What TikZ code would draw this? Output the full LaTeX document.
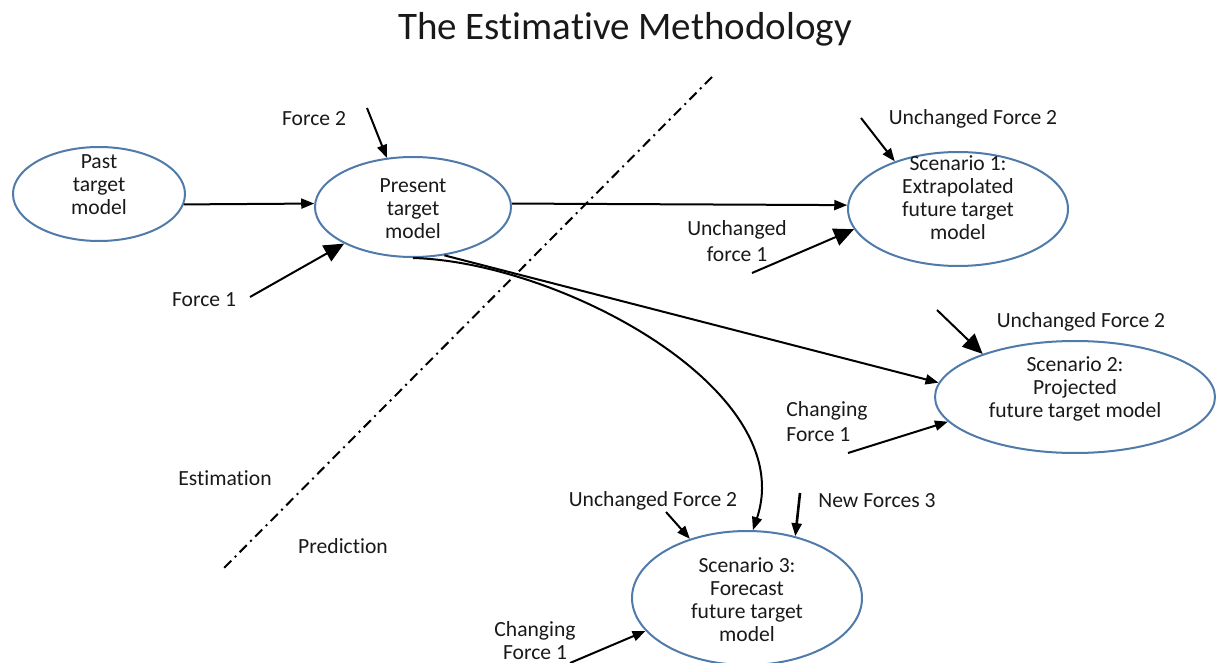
\documentclass[tikz,border=0pt]{standalone}
\usepackage{fontspec}
\setmainfont{Carlito}[Ligatures=NoCommon]
\usetikzlibrary{shapes.geometric,arrows.meta}
\definecolor{ellblue}{RGB}{79,122,170}
\tikzset{
  every node/.style={font=\fontsize{10.8pt}{11.5pt}\selectfont, text=black!90},
  modelnode/.style={ellipse, draw=ellblue, line width=1pt, inner sep=0pt},
  lbl/.style={inner sep=0pt, align=center},
  smallarrow/.style={line width=1pt, -{Triangle[length=6.5pt,width=5pt]}},
  bigarrow/.style={line width=1pt, -{Triangle[length=10pt,width=9pt]}},
  divider/.style={line width=1pt, dash pattern=on 5pt off 2.5pt on 1pt off 2.5pt},
}
\begin{document}
\begin{tikzpicture}[x=0.5pt,y=-0.5pt]
\useasboundingbox (0,0) rectangle (1216,663);
\node[lbl, font=\fontsize{19.5pt}{22pt}\selectfont] (title) at (625,29) {The Estimative Methodology};

% divider
\coordinate (d1) at (712,77);
\coordinate (d2) at (222,570);
\draw[divider] (d1) -- (d2);

% ellipses
\node[modelnode, minimum width=86pt, minimum height=47pt] (past) at (99,194) {};
\node[modelnode, minimum width=98pt, minimum height=50pt] (present) at (413,207) {};
\node[modelnode, minimum width=110pt, minimum height=57pt] (s1) at (958,209) {};
\node[modelnode, minimum width=140pt, minimum height=56pt] (s2) at (1075,397) {};
\node[modelnode, minimum width=115pt, minimum height=67pt] (s3) at (747,598) {};

% ellipse texts
\node[lbl] (pastt) at (99,185) {Past\\target\\model};
\node[lbl] (presentt) at (413,209) {Present\\target\\model};
\node[lbl] (s1t) at (958,198) {Scenario 1:\\Extrapolated\\future target\\model};
\node[lbl] (s2t) at (1075,389) {Scenario 2:\\Projected\\future target model};
\node[lbl] (s3t) at (747,600) {Scenario 3:\\Forecast\\future target\\model};

% main connectors
\draw[smallarrow] (past.-7) -- (present.178);
\draw[smallarrow] (present.2) -- (s1.178);
\draw[smallarrow] (present.-57) -- (s2.174);
\draw[smallarrow] (present.south) .. controls (560,262) and (800,390) .. (s3.85);

% labels
\node[lbl] (lf2) at (314,119) {Force 2};
\node[lbl] (lf1) at (204,300) {Force 1};
\node[lbl] (l1u2) at (973,119) {Unchanged Force 2};
\node[lbl] (l1u1) at (737,241) {Unchanged\\[1.5pt]force 1};
\node[lbl] (l2u2) at (1081,322) {Unchanged Force 2};
\node[lbl, align=left] (l2c1) at (827,422) {Changing\\[1pt]Force 1};
\node[lbl] (lest) at (225,478) {Estimation};
\node[lbl] (lpred) at (343,546) {Prediction};
\node[lbl] (l3u2) at (653,501) {Unchanged Force 2};
\node[lbl] (l3n3) at (877,501) {New Forces 3};
\node[lbl] (l3c1) at (535,641) {Changing\\Force 1};

% force arrow tails
\coordinate (tf2) at (367,108);
\coordinate (tf1) at (250,297);
\coordinate (t1u2) at (861,118);
\coordinate (t1u1) at (752,273);
\coordinate (t2u2) at (937,310);
\coordinate (t2c1) at (848,453);
\coordinate (t3u2) at (666,512);
\coordinate (t3n3) at (800,493);
\coordinate (t3c1) at (570,663);

\draw[smallarrow] (tf2) -- (present.118);
\draw[bigarrow] (tf1) -- (present.208);
\draw[smallarrow] (t1u2) -- (s1.143);
\draw[bigarrow] (t1u1) -- (s1.191);
\draw[bigarrow] (t2u2) -- (s2.155);
\draw[smallarrow] (t2c1) -- (s2.191);
\draw[smallarrow] (t3u2) -- (s3.134);
\draw[smallarrow, line width=1.3pt] (t3n3) -- (s3.52);
\draw[smallarrow] (t3c1) -- (s3.198);
\end{tikzpicture}
\end{document}
